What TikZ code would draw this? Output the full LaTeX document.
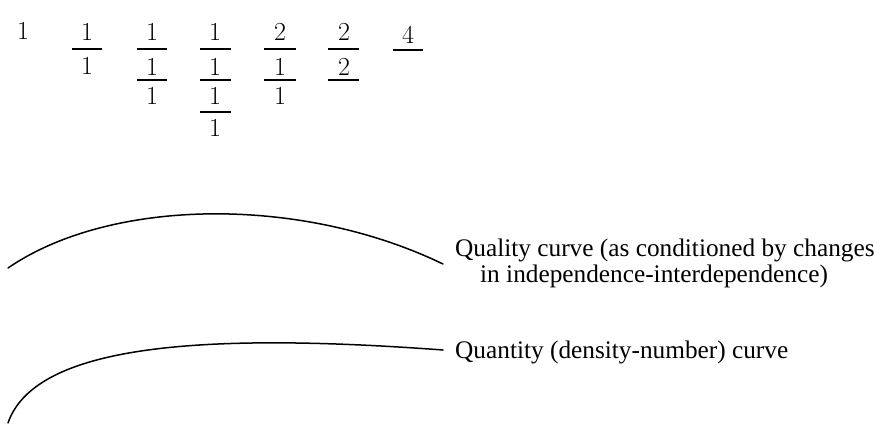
\documentclass[tikz,border=0pt]{standalone}
\usepackage{fontspec}
\newfontfamily\txtfont{Liberation Serif}
\begin{document}
\begin{tikzpicture}[x=1pt,y=-1pt,
  num/.style={font=\fontsize{26}{26}\selectfont, inner sep=0pt, anchor=center},
  fbar/.style={line width=1.5pt},
  curveline/.style={line width=1.5pt, line cap=round},
  lab/.style={font=\txtfont\fontsize{25.3}{30}\selectfont, anchor=base west, inner sep=0pt}]
\useasboundingbox (0,0) rectangle (874,427);
% row of fractions
\node[num] (n0) at (23,31) {1};
% column 1
\node[num] (a1) at (87,32) {1};
\node[num] (a2) at (87,66) {1};
\draw[fbar] (72,49) -- (102,49);
% column 2
\node[num] (b1) at (152,32) {1};
\node[num] (b2) at (152,67) {1};
\node[num] (b3) at (152,96) {1};
\draw[fbar] (137,49) -- (167,49);
\draw[fbar] (137,80) -- (167,80);
% column 3
\node[num] (c1) at (215,32) {1};
\node[num] (c2) at (215,67) {1};
\node[num] (c3) at (215,96) {1};
\node[num] (c4) at (215,128) {1};
\draw[fbar] (200,49) -- (231,49);
\draw[fbar] (200,80) -- (231,80);
\draw[fbar] (200,112) -- (231,112);
% column 4
\node[num] (d1) at (280,32) {2};
\node[num] (d2) at (280,67) {1};
\node[num] (d3) at (280,96) {1};
\draw[fbar] (264,49) -- (296,49);
\draw[fbar] (264,80) -- (296,80);
% column 5
\node[num] (e1) at (344,32) {2};
\node[num] (e2) at (344,67) {2};
\draw[fbar] (328,49) -- (359,49);
\draw[fbar] (328,80) -- (359,80);
% column 6
\node[num] (f1) at (408,35) {4};
\draw[fbar] (393,50) -- (423,50);
% curves
\coordinate (qa) at (8,268);
\coordinate (qb) at (443,264);
\coordinate (na) at (8,423);
\coordinate (nb) at (443,350);
\draw[curveline] (qa) .. controls (110,198) and (300,195) .. (qb);
\draw[curveline] (na) .. controls (35,345) and (200,332) .. (nb);
% labels
\node[lab] (q1) at (455,257) {Quality curve (as conditioned by changes};
\node[lab] (q2) at (480,282) {in independence-interdependence)};
\node[lab] (q3) at (455,358) {Quantity (density-number) curve};
\end{tikzpicture}
\end{document}
